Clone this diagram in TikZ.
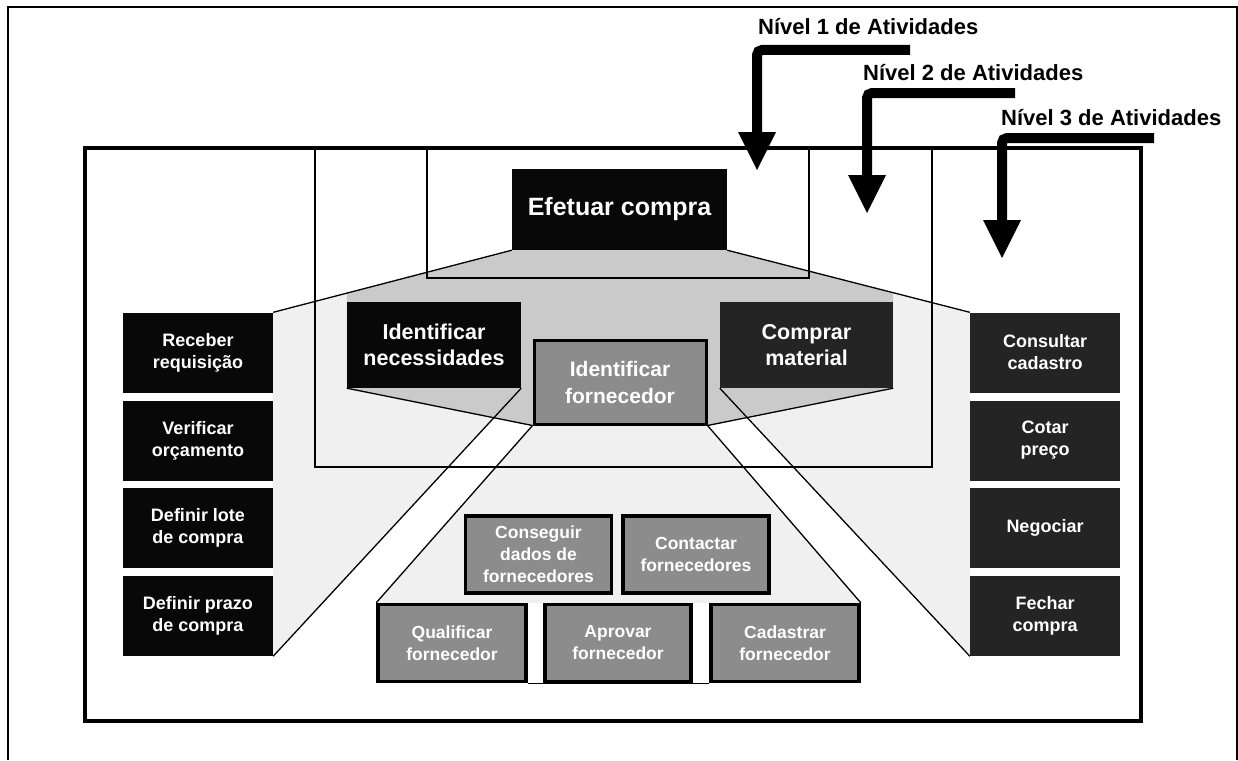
\documentclass[tikz,border=0pt]{standalone}
\usepackage{fontspec}
\setmainfont{Liberation Sans}
\usetikzlibrary{calc}
\pgfdeclarelayer{bg}
\pgfsetlayers{bg,main}
\definecolor{boxblack}{HTML}{080808}
\definecolor{boxdark}{HTML}{242424}
\definecolor{boxgrey}{HTML}{8C8C8C}
\definecolor{funnellight}{HTML}{F0F0F0}
\definecolor{funneldark}{HTML}{CACACA}
\begin{document}
\begin{tikzpicture}[x=1pt,y=-1pt,
  colbox/.style={fill=#1, draw=none, inner sep=0pt, text=white,
    font=\bfseries\fontsize{18}{22}\selectfont, align=center,
    minimum width=150pt, minimum height=80pt},
  midbox/.style={fill=#1, draw=none, inner sep=0pt, text=white,
    font=\bfseries\fontsize{21.5}{26}\selectfont, align=center,
    minimum width=174pt, minimum height=86pt},
  greybox/.style={fill=boxgrey, draw=black, line width=3.5pt, inner sep=0pt,
    text=white, font=\bfseries\fontsize{17.5}{22}\selectfont, align=center,
    minimum width=146pt, minimum height=77pt},
  thin/.style={line width=1.3pt, draw=black},
  frameline/.style={line width=2.8pt, draw=black},
  lbl/.style={anchor=base west, inner sep=0pt, font=\bfseries\fontsize{22}{26}\selectfont},
  bar/.style={line width=10pt, rounded corners=5pt}
]
\useasboundingbox (0,0) rectangle (1238,760);
% outer frame
\draw[line width=1.8pt] (8,760) -- (8,7) -- (1237,7) -- (1237,760);

% level 1 box
\node[midbox=boxblack, minimum width=215pt, minimum height=81pt,
  font=\bfseries\fontsize{25}{30}\selectfont] (efetuar) at (619.5,209.5) {Efetuar compra};
% level 2 boxes
\node[midbox=boxblack] (necess) at (434,345) {Identificar\\necessidades};
\node[midbox=boxdark, minimum width=173pt] (comprar) at (806.5,345) {Comprar\\material};
\node[midbox=boxgrey, draw=black, line width=3pt, minimum width=172pt, minimum height=84pt,
  font=\bfseries\fontsize{21}{27}\selectfont] (fornec) at (620,382) {Identificar\\fornecedor};

% level 3 left column
\node[colbox=boxblack] (receber) at (198,352.5) {Receber\\requisição};
\node[colbox=boxblack] (verificar) at (198,440.5) {Verificar\\orçamento};
\node[colbox=boxblack] (lote) at (198,528) {Definir lote\\de compra};
\node[colbox=boxblack] (prazo) at (198,616) {Definir prazo\\de compra};
% level 3 right column
\node[colbox=boxdark] (consultar) at (1045,352.5) {Consultar\\cadastro};
\node[colbox=boxdark] (cotar) at (1045,440.5) {Cotar\\preço};
\node[colbox=boxdark] (negociar) at (1045,528) {Negociar};
\node[colbox=boxdark] (fechar) at (1045,616) {Fechar\\compra};
% level 3 under fornecedor
\node[greybox] (conseguir) at (538.5,554.5) {Conseguir\\dados de\\fornecedores};
\node[greybox] (contactar) at (696,554.5) {Contactar\\fornecedores};
\node[greybox, minimum width=148pt] (qualificar) at (452,643) {Qualificar\\fornecedor};
\node[greybox] (aprovar) at (618,643) {Aprovar\\fornecedor};
\node[greybox, minimum width=148pt] (cadastrar) at (785,643) {Cadastrar\\fornecedor};

\begin{pgfonlayer}{bg}
  \fill[funnellight] (receber.north east) -- (efetuar.south west) -- (efetuar.south east)
    -- (consultar.north west) -- (fechar.south west) -- (comprar.south west)
    -- (fornec.south east) -- (cadastrar.north east) -- (qualificar.north west)
    -- (fornec.south west) -- (necess.south east) -- (prazo.south east) -- cycle;
  \fill[funneldark] (efetuar.south west) -- (efetuar.south east)
    -- ($(comprar.north east)+(0,-9)$) -- (comprar.south east) -- (fornec.south east)
    -- (fornec.south west) -- (necess.south west) -- ($(necess.north west)+(0,-9)$) -- cycle;
  % main frame and level frames
  \draw[line width=3.3pt] (85,148) rectangle (1141,721);
  \draw[frameline] (315,148) -- (315,467) -- (932,467) -- (932,148);
  \draw[frameline] (427,148) -- (427,278) -- (809,278) -- (809,148);
  % connectors
  \draw[thin] (efetuar.south west) -- (receber.north east);
  \draw[thin] (efetuar.south east) -- (consultar.north west);
  \draw[thin] (necess.south east) -- (prazo.south east);
  \draw[thin] (comprar.south west) -- (fechar.south west);
  \draw[thin] (necess.south west) -- (fornec.south west);
  \draw[thin] (comprar.south east) -- (fornec.south east);
  \draw[thin] (fornec.south west) -- (qualificar.north west);
  \draw[thin] (fornec.south east) -- (cadastrar.north east);
  \draw[thin] (qualificar.south east) -- (cadastrar.south west);
\end{pgfonlayer}

% level arrows
\coordinate (a1s) at (910,50); \coordinate (a1b) at (757,50); \coordinate (a1e) at (757,136);
\coordinate (a2s) at (1015,93); \coordinate (a2b) at (867,93); \coordinate (a2e) at (867,179);
\coordinate (a3s) at (1154,138); \coordinate (a3b) at (1002,138); \coordinate (a3e) at (1002,224);
\draw[bar] (a1s) -- (a1b) -- (a1e);
\draw[bar] (a2s) -- (a2b) -- (a2e);
\draw[bar] (a3s) -- (a3b) -- (a3e);
\fill ($(a1e)+(-19,-4)$) -- ($(a1e)+(19,-4)$) -- ($(a1e)+(0,34)$) -- cycle;
\fill ($(a2e)+(-19,-4)$) -- ($(a2e)+(19,-4)$) -- ($(a2e)+(0,34)$) -- cycle;
\fill ($(a3e)+(-19,-4)$) -- ($(a3e)+(19,-4)$) -- ($(a3e)+(0,34)$) -- cycle;
\node[lbl] (n1) at (758,35) {Nível 1 de Atividades};
\node[lbl] (n2) at (863,80) {Nível 2 de Atividades};
\node[lbl] (n3) at (1001,125) {Nível 3 de Atividades};
\end{tikzpicture}
\end{document}
